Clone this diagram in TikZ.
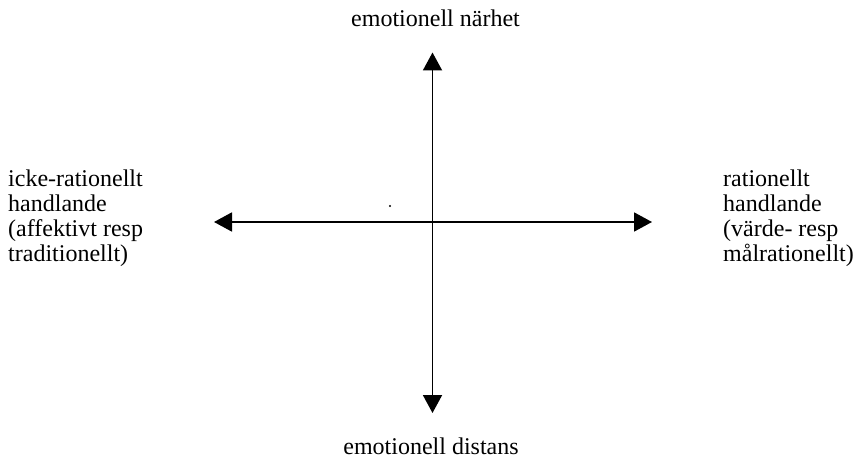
\documentclass[tikz,border=0pt]{standalone}
\usepackage{fontspec}
\setmainfont{Liberation Serif}
\usetikzlibrary{arrows.meta}
\begin{document}
\begin{tikzpicture}[x=1pt,y=1pt,
  lbl/.style={inner sep=0pt,font=\fontsize{24}{25}\selectfont},
  axis/.style={line width=1.9pt,{Triangle[length=18pt,width=19pt]}-{Triangle[length=18pt,width=19pt]}}]
\useasboundingbox (0,0) rectangle (853,461);
\coordinate (top) at (432.5,408.5);
\coordinate (bot) at (432.5,48);
\coordinate (lft) at (214,239);
\coordinate (rgt) at (652,239);
\draw[axis] (bot) -- (top);
\draw[axis] (lft) -- (rgt);
\fill (390,255) circle (1.1pt);
\node[lbl,anchor=base] (ntop) at (435.5,434.3) {emotionell närhet};
\node[lbl,anchor=base] (nbot) at (431,7) {emotionell distans};
\node[lbl,anchor=base west,align=left] (nlft) at (8,200) {icke-rationellt\\handlande\\(affektivt resp\\traditionellt)};
\node[lbl,anchor=base west,align=left] (nrgt) at (723,199.3) {rationellt\\handlande\\(värde- resp\\målrationellt)};
\end{tikzpicture}
\end{document}
